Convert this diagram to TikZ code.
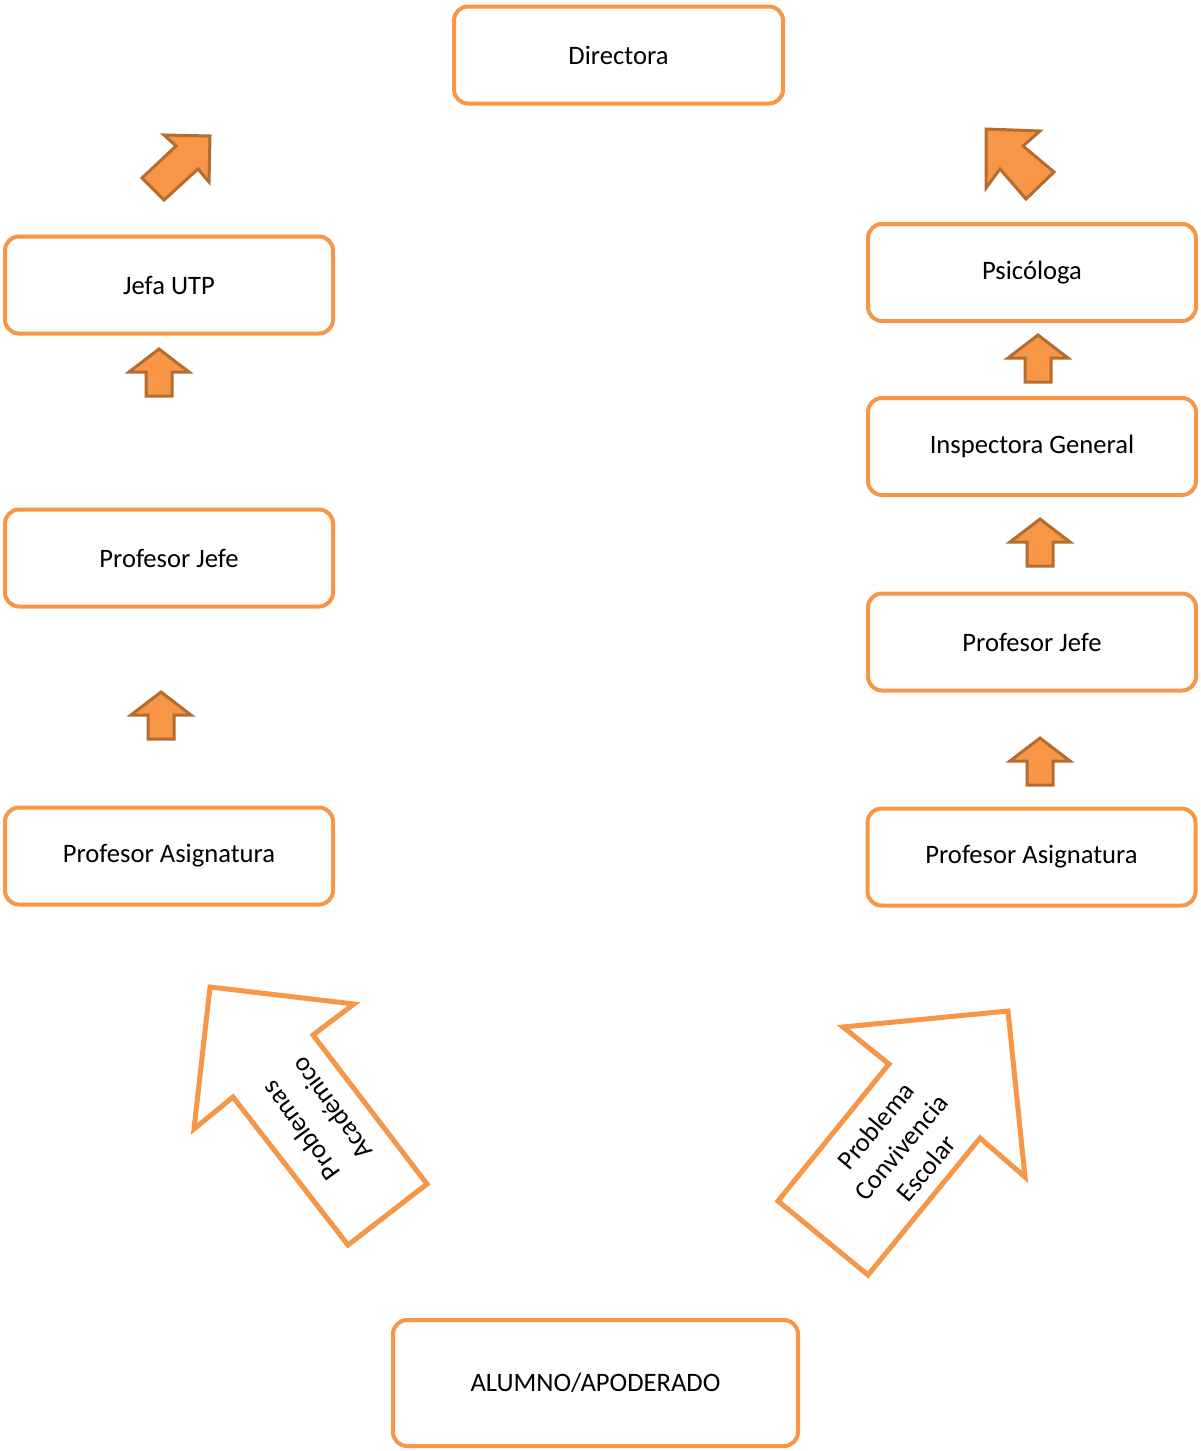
\documentclass[tikz,border=0pt]{standalone}
\usepackage{fontspec}
\setmainfont{Carlito}
\definecolor{orng}{HTML}{F79646}
\definecolor{orngdark}{HTML}{B56C2F}
\begin{document}
\begin{tikzpicture}[x=0.5pt,y=-0.5pt,
  box/.style={draw=orng, line width=2pt, rounded corners=7pt, fill=white,
    minimum width=164pt, minimum height=48.5pt, inner sep=0pt, font=\fontsize{13.3}{16}\selectfont},
  smallarr/.style={draw=orngdark, fill=orng, line width=1.5pt, line join=miter},
  bigarr/.style={draw=orng, fill=white, line width=2.5pt, line join=miter},
  arrtext/.style={align=center, inner sep=0pt},
  uparr/.pic={\path[smallarr] (0,0) -- (30,23) -- (13,23) -- (13,47) -- (-13,47) -- (-13,23) -- (-30,23) -- cycle;}]
\useasboundingbox (0,0) rectangle (1200,1451);

% boxes
\node[box, minimum width=164.5pt] (dir) at (618.5,55) {Directora};
\node[box] (utp) at (169,285) {Jefa UTP};
\node[box] (pjl) at (169,558) {Profesor Jefe};
\node[box] (pal) at (169,856) {Profesor Asignatura};
\node[box] (psi) at (1032,272.5) {Psicóloga};
\node[box] (ins) at (1032,446.5) {Inspectora General};
\node[box] (pjr) at (1032,642) {Profesor Jefe};
\node[box] (par) at (1031.5,857) {Profesor Asignatura};
\node[box, minimum width=202.5pt, minimum height=63pt] (alu) at (595.5,1383) {ALUMNO/APODERADO};

% small up arrows
\pic at (159,349) {uparr};
\pic at (161,692) {uparr};
\pic at (1038,335) {uparr};
\pic at (1040,519) {uparr};
\pic at (1040,738) {uparr};

% diagonal small arrows
\path[smallarr] (164,135) -- (210,136) -- (209,182) -- (198,169) -- (164,200) -- (142,178) -- (176,146) -- cycle;
\path[smallarr] (986,129) -- (1040,131) -- (1023,146) -- (1054,172) -- (1026,199) -- (1000,169) -- (986,188) -- cycle;

% big outline arrows
\path[bigarr] (210,987) -- (354,1004) -- (313,1035) -- (427,1184) -- (348,1245) -- (233,1097) -- (194,1129) -- cycle;
\node[arrtext, rotate=126, font=\fontsize{13.3}{19}\selectfont] (pa) at (316,1120) {Problemas\\Académico};

\path[bigarr] (1008,1011) -- (1025,1177) -- (980,1138) -- (868,1275) -- (778,1201) -- (889,1064) -- (843,1027) -- cycle;
\node[arrtext, rotate=50, font=\fontsize{13.3}{16.5}\selectfont] (pc) at (901,1147) {Problema\\Convivencia\\Escolar};
\end{tikzpicture}
\end{document}
